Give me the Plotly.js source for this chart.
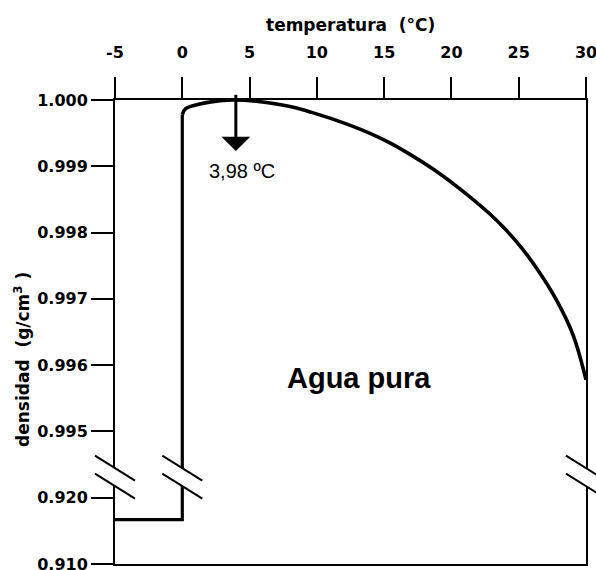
<!DOCTYPE html>
<html><head><meta charset="utf-8">
<script src="https://cdn.plot.ly/plotly-3.0.1.min.js"></script>
<style>html,body{margin:0;padding:0;background:#fff}</style>
</head><body><div id="chart" style="width:596px;height:570px"></div>
<script>
// ---- data ----
const tempTicks = [-5, 0, 5, 10, 15, 20, 25, 30];
const densTickValues = [0.910, 0.920, 0.995, 0.996, 0.997, 0.998, 0.999, 1.000];
const densTickLabels = ['0.910', '0.920', '0.995', '0.996', '0.997', '0.998', '0.999', '1.000'];
const iceTemp = [-5, 0];
const iceDens = [0.9167, 0.9167];
const waterTemp = [0, 0.25, 1.3, 2.8, 3.98, 5.5, 7, 8.5, 9.5, 11.35, 13.2, 15.06, 16.92, 18.77, 20.63, 22.86, 24.1, 25.33, 26.57, 27.81, 29.05, 30];
const waterDens = [0.99978, 0.99987, 0.99994, 0.99999, 1.00000, 0.99998, 0.99994, 0.99988, 0.99982, 0.99970, 0.99956, 0.99939, 0.99918, 0.99894, 0.99866, 0.99828, 0.99803, 0.99774, 0.99739, 0.99698, 0.99645, 0.99578];
const maxTemp = 3.98;
const maxLabel = '3,98 ºC';
const sampleLabel = 'Agua pura';
const breakTemps = [-5, 0, 30];

// broken density axis: 0.910-0.920 compressed into the two lowest steps
function toAxis(d) { return d >= 0.995 ? 2 + (d - 0.995) / 0.001 : (d - 0.910) / 0.010; }
const breakPos = 1.31;
const xMin = -5, xMax = 30, yMax = 7;

const traces = [
  { x: iceTemp.concat([waterTemp[0]]), y: iceDens.concat([waterDens[0]]).map(toAxis),
    mode: 'lines', line: { color: '#000', width: 3.2, shape: 'linear' }, hoverinfo: 'skip' },
  { x: waterTemp, y: waterDens.map(toAxis),
    mode: 'lines', line: { color: '#000', width: 3.6, shape: 'spline', smoothing: 1 }, hoverinfo: 'skip' }
];

const tickFont = { family: 'DejaVu Sans', size: 16, weight: 'bold', color: '#000' };
const titleFont = { family: 'DejaVu Sans', size: 17, weight: 'bold', color: '#000' };

const shapes = [];
breakTemps.forEach(t => {
  const xa = (t - xMin) / (xMax - xMin), ya = breakPos / yMax;
  const common = { xref: 'x domain', yref: 'y domain', xsizemode: 'pixel', ysizemode: 'pixel', xanchor: xa, yanchor: ya, layer: 'above' };
  shapes.push(Object.assign({ type: 'path', path: 'M-20,21.5 L20,-3.5 L20,-21.5 L-20,3.5 Z', fillcolor: '#fff', line: { width: 0 } }, common));
  shapes.push(Object.assign({ type: 'line', x0: -20, y0: 21.5, x1: 20, y1: -3.5, line: { color: '#000', width: 2 } }, common));
  shapes.push(Object.assign({ type: 'line', x0: -20, y0: 3.5, x1: 20, y1: -21.5, line: { color: '#000', width: 2 } }, common));
});

const layout = {
  width: 596, height: 570,
  margin: { l: 115, r: 10, t: 100, b: 6 },
  paper_bgcolor: '#fff', plot_bgcolor: '#fff',
  showlegend: false,
  xaxis: {
    side: 'top', range: [xMin, xMax], tickvals: tempTicks, ticktext: tempTicks.map(String),
    ticks: 'outside', ticklen: 21, tickwidth: 2, tickcolor: '#000', ticklabelstandoff: 13,
    ticklabeloverflow: 'allow',
    showline: true, linewidth: 2, linecolor: '#000', mirror: true,
    showgrid: false, zeroline: false, tickfont: tickFont, fixedrange: true
  },
  yaxis: {
    range: [0, yMax], tickvals: densTickValues.map(toAxis), ticktext: densTickLabels,
    ticks: 'outside', ticklen: 22, tickwidth: 2, tickcolor: '#000', ticklabelstandoff: 0,
    ticklabeloverflow: 'allow',
    showline: true, linewidth: 2, linecolor: '#000', mirror: true,
    showgrid: false, zeroline: false, tickfont: tickFont, fixedrange: true
  },
  shapes: shapes,
  annotations: [
    { text: 'temperatura  (°C)', xref: 'paper', yref: 'paper', x: 0.5, y: (564 - 25) / 464,
      xanchor: 'center', yanchor: 'middle', showarrow: false, font: titleFont },
    { text: 'densidad  (g/cm<sup>3</sup> )', xref: 'paper', yref: 'paper', x: (22 - 115) / 471, y: (564 - 360) / 464,
      textangle: -90, xanchor: 'center', yanchor: 'middle', showarrow: false, font: titleFont },
    { text: '', x: maxTemp, y: 6.23, xref: 'x', yref: 'y', ax: maxTemp, ay: 7.1, axref: 'x', ayref: 'y',
      showarrow: true, arrowhead: 1, arrowsize: 1.6, arrowwidth: 3, arrowcolor: '#000' },
    { text: maxLabel, xref: 'x', yref: 'paper', x: maxTemp, xshift: 6, y: (564 - 171) / 464,
      xanchor: 'center', yanchor: 'middle', showarrow: false,
      font: { family: 'Liberation Sans', size: 20, color: '#000' } },
    { text: sampleLabel, xref: 'paper', yref: 'paper', x: (358.5 - 115) / 471, y: (564 - 378) / 464,
      xanchor: 'center', yanchor: 'middle', showarrow: false,
      font: { family: 'Liberation Sans', size: 29, weight: 'bold', color: '#000' } }
  ]
};

Plotly.newPlot('chart', traces, layout, { displayModeBar: false, staticPlot: true });
</script>
</body></html>
